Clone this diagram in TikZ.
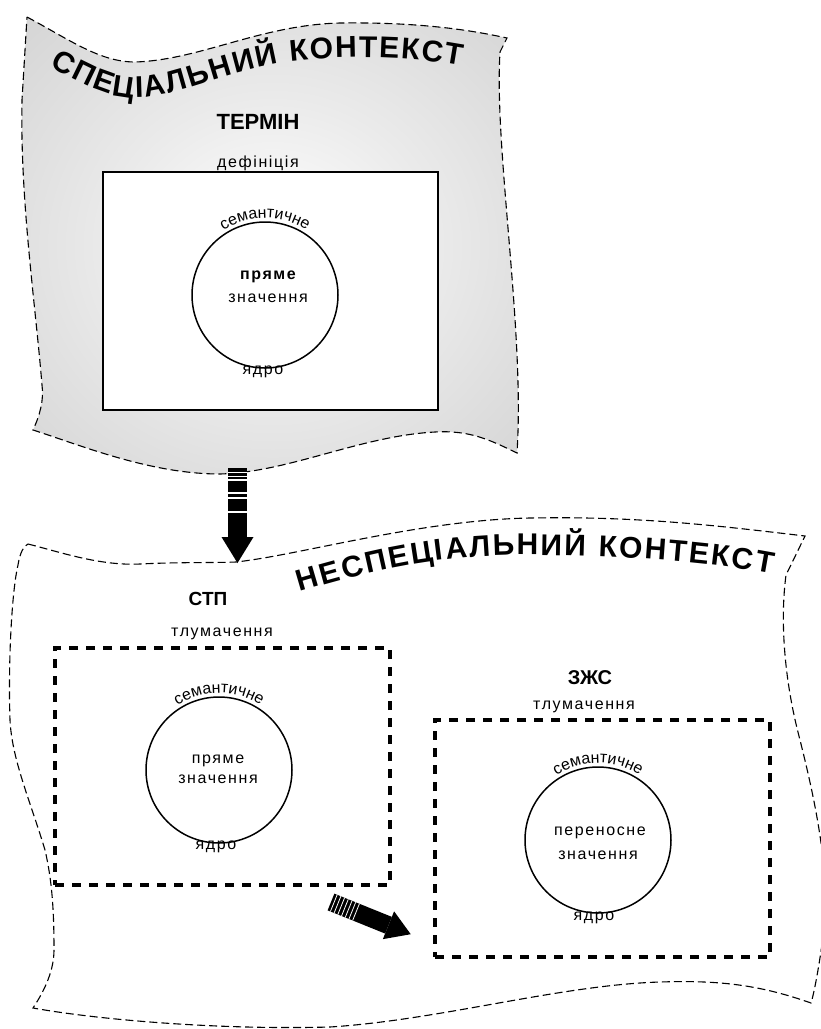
\documentclass[tikz,border=0pt]{standalone}
\usepackage{fontspec}
\setmainfont{Liberation Sans}
\newfontfamily\lblfamily[LetterSpace=10]{Liberation Sans}
\newfontfamily\arcfamily[LetterSpace=6]{Liberation Sans}
\usetikzlibrary{decorations.text}

\newcommand\flagfont{\bfseries\fontsize{30}{33}\selectfont}
\newcommand\headfont{\bfseries\fontsize{22}{26}\selectfont}
\newcommand\lblfont{\lblfamily\fontsize{16}{18}\selectfont}
\newcommand\arcfont{\arcfamily\fontsize{16}{18}\selectfont}

\pgfdeclareradialshading{flagglow}{\pgfpoint{0bp}{0bp}}{%
  color(0bp)=(white); color(16bp)=(white!92!black);
  color(34bp)=(white!84!black); color(50bp)=(white!78!black)}

\begin{document}
\begin{tikzpicture}[x=1pt,y=-1pt,
  flagline/.style={line width=1.1pt, dash pattern=on 8pt off 4pt},
  solidbox/.style={draw, line width=1.8pt, fill=white, inner sep=0pt,
    minimum width=335pt, minimum height=238pt},
  dashbox/.style={draw, line width=3.6pt, dash pattern=on 9pt off 8pt,
    inner sep=0pt, minimum width=335pt, minimum height=237pt},
  core/.style={circle, draw, line width=1.5pt, fill=white, inner sep=0pt,
    minimum size=146pt},
  lbl/.style={inner sep=0pt, font=\lblfont},
  head/.style={inner sep=0pt, font=\headfont},
  arctext/.style={decorate, decoration={text along path,
    text={|\arcfont|#1}, text align=center}}
]
\useasboundingbox (0,0) rectangle (820,1029);
\fill[white] (0,0) rectangle (820,1029);

% ---------- upper flag: special context ----------
\path[shading=flagglow]
  (27,17) .. controls (70,40) and (100,62) .. (135,62)
  .. controls (200,60) and (260,25) .. (340,23)
  .. controls (420,22) and (470,30) .. (507,38)
  -- (500,52) .. controls (494,150) and (525,330) .. (517,453)
  .. controls (490,440) and (470,430) .. (435,432)
  .. controls (360,436) and (290,472) .. (220,474)
  .. controls (150,474) and (80,445) .. (33,430)
  .. controls (40,415) and (44,400) .. (42,385)
  .. controls (35,300) and (20,200) .. (22,100) -- cycle;
\draw[flagline]
  (27,17) .. controls (70,40) and (100,62) .. (135,62)
  .. controls (200,60) and (260,25) .. (340,23)
  .. controls (420,22) and (470,30) .. (507,38)
  -- (500,52) .. controls (494,150) and (525,330) .. (517,453)
  .. controls (490,440) and (470,430) .. (435,432)
  .. controls (360,436) and (290,472) .. (220,474)
  .. controls (150,474) and (80,445) .. (33,430)
  .. controls (40,415) and (44,400) .. (42,385)
  .. controls (35,300) and (20,200) .. (22,100) -- cycle;

\path[decorate, decoration={text along path,
    text={|\flagfont|СПЕЦІАЛЬНИЙ КОНТЕКСТ}, text align={fit to path}}]
  (50,66) .. controls (95,92) and (120,101) .. (150,97)
  .. controls (185,92) and (230,71) .. (285,62)
  .. controls (340,55) and (410,56) .. (462,66);

\node[head] (term) at (258,122) {ТЕРМІН};
\node[lbl] (termdef) at (258,163) {дефініція};
\node[solidbox] (defbox) at (270.5,291) {};

\node[core] (c1) at (265,295) {};
\path[arctext=семантичне] ([shift={(-150:77)}]c1.center)
  arc[start angle=-150, end angle=-30, radius=77];
\node[inner sep=0pt, font=\lblfamily\bfseries\fontsize{16}{18}\selectfont]
  (c1a) at (268,277) {пряме};
\node[lbl] (c1b) at (268,298) {значення};
\node[lbl] (c1c) at (263,372) {ядро};

% ---------- lower flag: non-special context ----------
\draw[flagline, fill=white]
  (28,544) .. controls (60,552) and (100,566) .. (140,564)
  .. controls (180,562) and (210,563) .. (236,562)
  .. controls (300,555) and (420,520) .. (530,518)
  .. controls (640,516) and (720,526) .. (805,536)
  -- (786,575) .. controls (780,620) and (784,680) .. (800,740)
  .. controls (815,800) and (830,870) .. (824,930)
  .. controls (820,960) and (815,990) .. (811,1003)
  .. controls (760,985) and (720,980) .. (660,982)
  .. controls (560,985) and (440,1020) .. (330,1027)
  .. controls (220,1030) and (100,1020) .. (33,1008)
  .. controls (45,990) and (54,970) .. (54,950)
  .. controls (54,910) and (52,880) .. (45,850)
  .. controls (30,800) and (12,760) .. (10,720)
  .. controls (8,660) and (12,590) .. (18,565)
  .. controls (20,552) and (24,546) .. cycle;

\path[decorate, decoration={text along path,
    text={|\flagfont|НЕСПЕЦІАЛЬНИЙ КОНТЕКСТ}, text align={fit to path}}]
  (300,592) .. controls (380,568) and (440,556) .. (520,555)
  .. controls (600,555) and (700,560) .. (772,574);

% left group
\node[head, font=\bfseries\fontsize{19}{22}\selectfont] (stp) at (208,599) {СТП};
\node[lbl] (stpdef) at (222,634) {тлумачення};
\node[dashbox] (stpbox) at (222.5,766.5) {};
\node[core] (c2) at (219,770) {};
\path[arctext=семантичне] ([shift={(-150:77)}]c2.center)
  arc[start angle=-150, end angle=-30, radius=77];
\node[lbl] (c2a) at (218,761) {пряме};
\node[lbl] (c2b) at (218,779) {значення};
\node[lbl] (c2c) at (216,847) {ядро};

% right group
\node[head, font=\bfseries\fontsize{20}{23}\selectfont] (zhs) at (590,678) {ЗЖС};
\node[lbl] (zhsdef) at (584,707) {тлумачення};
\node[dashbox] (zhsbox) at (602.5,838.5) {};
\node[core] (c3) at (598,840) {};
\path[arctext=семантичне] ([shift={(-150:77)}]c3.center)
  arc[start angle=-150, end angle=-30, radius=77];
\node[lbl] (c3a) at (600,833) {переносне};
\node[lbl] (c3b) at (598,855) {значення};
\node[lbl] (c3c) at (594,918) {ядро};

% ---------- striped arrows ----------
\coordinate (downTail) at (237.5,468);
\coordinate (diagTail) at (331,902);
\begin{scope}[shift={(downTail)}]
  \fill[black] (-9.5,0) rectangle (9.5,69);
  \fill[black] (-16,69) -- (16,69) -- (0,95) -- cycle;
  \foreach \yy/\ww in {4/0.6, 8/0.6, 12/1.2, 25/1.2, 30/1.2, 44/1.2}
    \draw[white, line width=\ww pt] (-9.5,\yy) -- (9.5,\yy);
\end{scope}
\begin{scope}[shift={(diagTail)}, rotate=-22]
  \fill[black] (0,-9) rectangle (62,9);
  \fill[black] (62,-15) -- (62,15) -- (86,0) -- cycle;
  \foreach \xx in {3,7,11,15,19,23,27}
    \draw[white, line width=0.8pt] (\xx,-9) -- (\xx,9);
\end{scope}
\end{tikzpicture}
\end{document}
